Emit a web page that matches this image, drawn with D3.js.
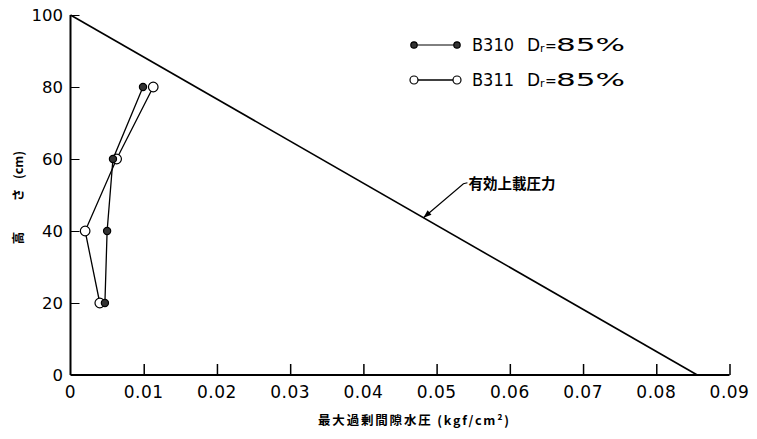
<!DOCTYPE html>
<html><head><meta charset="utf-8">
<script src="https://cdn.jsdelivr.net/npm/d3@7"></script>
<style>body{margin:0;background:#fff}svg{display:block}</style>
</head><body>
<svg id="c" width="757" height="439"></svg>
<script>
// ---- data ----
const heights = [80, 60, 40, 20];
const b310 = [0.0099, 0.0058, 0.0050, 0.0047];
const b311 = [0.0113, 0.0063, 0.0020, 0.0040];
const effLine = [[0, 100], [0.0856, 0]];
const xTicks = [0, 0.01, 0.02, 0.03, 0.04, 0.05, 0.06, 0.07, 0.08, 0.09];
const xTickLabels = ["0", "0.01", "0.02", "0.03", "0.04", "0.05", "0.06", "0.07", "0.08", "0.09"];
const yTicks = [0, 20, 40, 60, 80, 100];
const yTickLabels = ["0", "20", "40", "60", "80", "100"];
const seriesNames = ["B310", "B311"];
const annoText = "有効上載圧力";
const annoX = 0.0482;

const svg = d3.select("#c");
const x = d3.scaleLinear().domain([0, 0.09]).range([70.5, 729.5]);
const y = d3.scaleLinear().domain([0, 100]).range([375, 15]);
const font = "'DejaVu Sans', sans-serif";
const cjk = "'Noto Sans CJK JP', sans-serif";

// axes
const xAxis = d3.axisBottom(x).tickValues(xTicks.slice(1)).tickSize(-11).tickFormat("");
const gx = svg.append("g").attr("transform", `translate(0,${y(0)})`).call(xAxis);
gx.select(".domain").attr("d", `M${x(0)},0H${x(0.09)}`).attr("stroke", "#000").attr("stroke-width", 2);
gx.selectAll(".tick line").attr("stroke", "#000").attr("stroke-width", 1.5);

const yAxis = d3.axisLeft(y).tickValues(yTicks.slice(1)).tickSize(-9).tickFormat("");
const gy = svg.append("g").attr("transform", `translate(${x(0)},0)`).call(yAxis);
gy.select(".domain").attr("d", `M0,${y(100)}V${y(0)}`).attr("stroke", "#000").attr("stroke-width", 2);
gy.selectAll(".tick line").attr("stroke", "#000").attr("stroke-width", 1);

// tick labels
svg.append("g").selectAll("text").data(xTicks).join("text")
  .attr("x", d => x(d)).attr("y", 398).attr("text-anchor", "middle")
  .attr("font-family", font).attr("font-size", 17).attr("letter-spacing", 0.5)
  .text((d, i) => xTickLabels[i]);
svg.append("g").selectAll("text").data(yTicks).join("text")
  .attr("x", 63).attr("y", d => y(d)).attr("dy", "0.36em").attr("text-anchor", "end")
  .attr("font-family", font).attr("font-size", 16.5)
  .text((d, i) => yTickLabels[i]);

// effective overburden line
const line = d3.line().x(d => x(d[0])).y(d => y(d[1]));
svg.append("path").attr("d", line(effLine)).attr("fill", "none").attr("stroke", "#000").attr("stroke-width", 1.6);

// series
const pts311 = heights.map((h, i) => [b311[i], h]);
const pts310 = heights.map((h, i) => [b310[i], h]);
svg.append("path").attr("d", line(pts311)).attr("fill", "none").attr("stroke", "#000").attr("stroke-width", 1.3);
svg.append("path").attr("d", line(pts310)).attr("fill", "none").attr("stroke", "#000").attr("stroke-width", 1.3);
svg.append("g").selectAll("circle").data(pts311).join("circle")
  .attr("cx", d => x(d[0])).attr("cy", d => y(d[1])).attr("r", 4.8)
  .attr("fill", "#fff").attr("stroke", "#000").attr("stroke-width", 1.2);
svg.append("g").selectAll("circle").data(pts310).join("circle")
  .attr("cx", d => x(d[0])).attr("cy", d => y(d[1])).attr("r", 3.6)
  .attr("fill", "#333").attr("stroke", "#000").attr("stroke-width", 1.2);

// legend
const legY = [45, 80];
const lg = svg.append("g");
seriesNames.forEach((name, i) => {
  const yy = legY[i];
  lg.append("line").attr("x1", 414).attr("x2", 457).attr("y1", yy).attr("y2", yy)
    .attr("stroke", "#000").attr("stroke-width", i === 0 ? 1 : 1.3);
  [414, 457].forEach(cx => {
    lg.append("circle").attr("cx", cx).attr("cy", yy).attr("r", i === 0 ? 3.2 : 4)
      .attr("fill", i === 0 ? "#333" : "#fff").attr("stroke", "#000").attr("stroke-width", 1.2);
  });
  lg.append("text").attr("x", 472).attr("y", yy + 6).attr("font-family", font).attr("font-size", 17)
    .attr("textLength", 42).attr("lengthAdjust", "spacingAndGlyphs").text(name);
  lg.append("text").attr("x", 527).attr("y", yy + 6).attr("font-family", font).attr("font-size", 17).text("D");
  lg.append("text").attr("x", 540).attr("y", yy + 7).attr("font-family", font).attr("font-size", 11).text("r");
  lg.append("text").attr("x", 545).attr("y", yy + 6).attr("font-family", font).attr("font-size", 14).text("=");
  lg.append("text").attr("x", 556).attr("y", yy + 6).attr("font-family", font).attr("font-size", 17)
    .attr("textLength", 69).attr("lengthAdjust", "spacingAndGlyphs").text("85%");
});

// annotation
const tipX = x(annoX), tipY = y(100 * (1 - annoX / effLine[1][0]));
const sx = tipX + 40, sy = tipY - 34;
svg.append("path").attr("d", `M${tipX},${tipY}L${sx},${sy}L${sx + 4},${sy - 1}`)
  .attr("fill", "none").attr("stroke", "#000").attr("stroke-width", 1.2);
const ang = Math.atan2(sy - tipY, sx - tipX);
const ah = 8, aw = 3;
const bx = tipX + ah * Math.cos(ang), by = tipY + ah * Math.sin(ang);
svg.append("path").attr("d",
  `M${tipX},${tipY}L${bx - aw * Math.sin(ang)},${by + aw * Math.cos(ang)}L${bx + aw * Math.sin(ang)},${by - aw * Math.cos(ang)}Z`)
  .attr("fill", "#000");
svg.append("text").attr("x", sx + 5).attr("y", sy + 5).attr("font-family", cjk).attr("font-size", 14.5)
  .attr("font-weight", 700).text(annoText);

// axis titles
svg.append("text").attr("x", 318).attr("y", 425).attr("font-family", cjk).attr("font-size", 12.5)
  .attr("font-weight", 700).attr("textLength", 191).attr("lengthAdjust", "spacing")
  .text("最大過剰間隙水圧 (kgf/cm²)");
const yt = [["高", 238], ["さ", 195], ["(cm)", 165]];
yt.forEach(([t, cy]) => {
  svg.append("text").attr("transform", `translate(19,${cy}) rotate(-90)`)
    .attr("text-anchor", "middle").attr("dy", "0.35em").attr("font-family", cjk)
    .attr("font-size", 12.5).attr("font-weight", 700).text(t);
});
</script>
</body></html>
